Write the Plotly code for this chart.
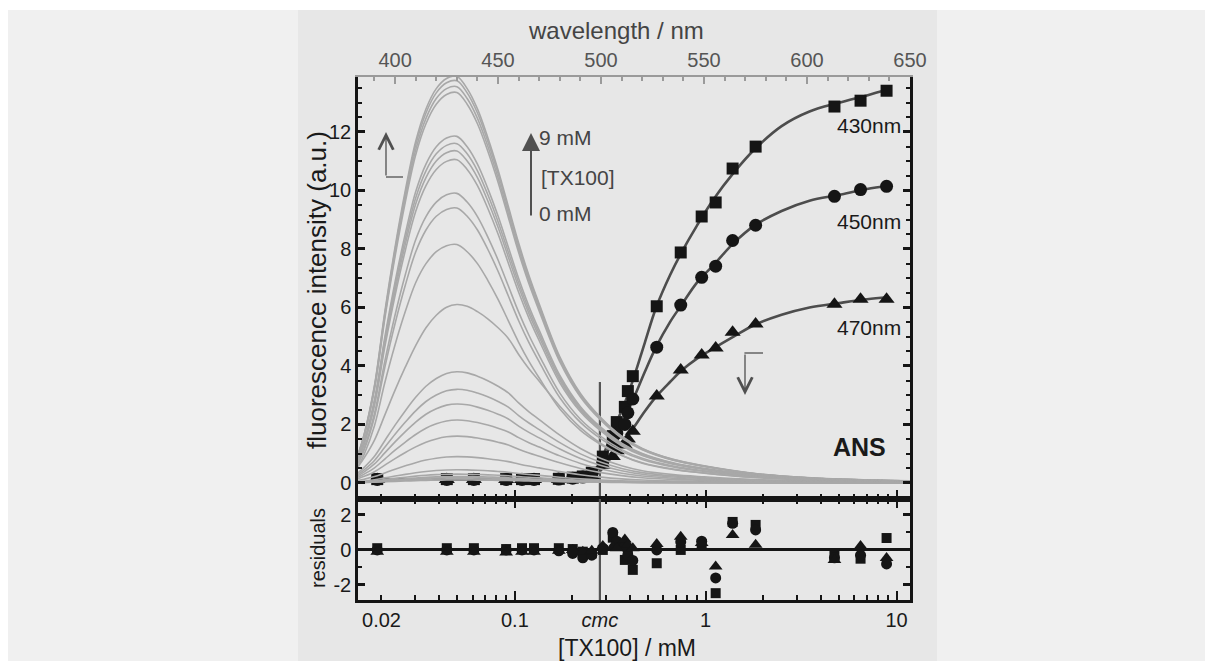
import plotly.graph_objects as go

# ---------------- data ----------------
# TX100 concentrations (mM) of the titration points
conc = [0.019, 0.044, 0.061, 0.090, 0.109, 0.126, 0.170, 0.201, 0.227, 0.253,
        0.289, 0.326, 0.342, 0.377, 0.391, 0.415, 0.554, 0.740, 0.953, 1.128,
        1.384, 1.827, 4.73, 6.48, 8.87]
cmc = 0.279

# fluorescence intensities at the three emission wavelengths
int_430 = [0.13, 0.13, 0.13, 0.13, 0.13, 0.13, 0.14, 0.18, 0.22, 0.35,
           0.9, 1.6, 2.08, 2.6, 3.14, 3.65, 6.04, 7.88, 9.11, 9.59,
           10.75, 11.5, 12.87, 13.07, 13.41]
int_450 = [0.12, 0.12, 0.12, 0.12, 0.12, 0.12, 0.13, 0.16, 0.2, 0.3,
           0.7, 1.3, 1.7, 2.0, 2.4, 2.87, 4.64, 6.08, 7.03, 7.41,
           8.29, 8.81, 9.80, 10.03, 10.14]
int_470 = [0.12, 0.12, 0.12, 0.12, 0.12, 0.12, 0.12, 0.13, 0.15, 0.25,
           0.6, 0.9, 1.1, 1.3, 1.5, 1.77, 2.97, 3.86, 4.37, 4.61,
           5.15, 5.43, 6.11, 6.28, 6.28]

# fitted curves
fit_conc = [0.019, 0.1, 0.2, 0.24, 0.27, 0.29, 0.31, 0.34, 0.38, 0.42, 0.48,
            0.55, 0.65, 0.75, 0.9, 1.1, 1.4, 1.8, 2.5, 3.5, 5.0, 7.0, 9.0]
fit_430 = [0.12, 0.12, 0.15, 0.25, 0.55, 0.95, 1.4, 2.05, 2.8, 3.6, 4.8,
           6.0, 7.1, 7.9, 8.8, 9.7, 10.6, 11.4, 12.2, 12.7, 13.0, 13.25, 13.45]
fit_450 = [0.12, 0.12, 0.14, 0.22, 0.45, 0.8, 1.15, 1.65, 2.3, 2.9, 3.8,
           4.65, 5.5, 6.1, 6.85, 7.45, 8.2, 8.8, 9.3, 9.65, 9.85, 10.05, 10.15]
fit_470 = [0.12, 0.12, 0.13, 0.18, 0.32, 0.52, 0.75, 1.08, 1.5, 1.9, 2.45,
           2.95, 3.45, 3.85, 4.25, 4.6, 5.0, 5.4, 5.75, 6.0, 6.15, 6.28, 6.35]

# residuals
res_430 = [0.1, 0.1, 0.1, 0.05, 0.1, 0.1, 0.1, 0.05, -0.1, -0.2,
           0.0, 0.7, 0.3, -0.57, -0.3, -1.14, -0.76, 0.0, 0.34, -2.47,
           1.6, 1.43, -0.34, -0.5, 0.68]
res_450 = [0.0, 0.0, 0.0, 0.0, 0.0, 0.0, -0.05, -0.2, -0.45, -0.3,
           0.1, 1.0, 0.5, 0.2, -0.3, -0.6, 0.0, 0.46, 0.5, -1.6,
           1.52, 1.14, -0.45, -0.3, -0.8]
res_470 = [-0.1, -0.1, -0.1, -0.15, -0.1, -0.1, -0.05, 0.0, -0.1, -0.05,
           0.23, 0.2, 0.1, 0.6, 0.3, 0.1, 0.34, 0.76, 0.4, -0.95,
           0.86, 0.29, -0.57, 0.23, -0.46]

# emission spectra (wavelength axis, nm)
wavelength = [382, 385, 390, 395, 400, 405, 410, 415, 420, 425, 430, 435, 440,
              445, 450, 455, 460, 465, 470, 480, 490, 500, 510, 520, 535, 550,
              575, 600, 625, 650]
# normalised band profiles (high / low intensity spectra)
profile_high = [0.07, 0.12, 0.24, 0.42, 0.58, 0.72, 0.84, 0.92, 0.97, 0.995,
                1.0, 0.97, 0.92, 0.85, 0.77, 0.68, 0.59, 0.51, 0.44, 0.31,
                0.22, 0.16, 0.115, 0.085, 0.058, 0.042, 0.023, 0.013, 0.008, 0.005]
profile_low = [0.09, 0.14, 0.24, 0.38, 0.52, 0.65, 0.77, 0.87, 0.94, 0.985,
               1.0, 0.99, 0.96, 0.92, 0.87, 0.81, 0.72, 0.64, 0.57, 0.43,
               0.31, 0.22, 0.155, 0.11, 0.075, 0.055, 0.03, 0.018, 0.012, 0.008]
peaks_high = [13.9, 13.75, 13.55, 13.35, 11.85, 11.6, 11.35, 11.05, 9.9, 9.4, 8.15]
peaks_low = [6.1, 3.8, 3.2, 2.7, 2.15, 1.6, 0.9, 0.45, 0.3, 0.22, 0.18, 0.14, 0.1]

# axis tick labels
x_tickvals = [0.02, 0.1, cmc, 1, 10]
x_ticktext = ["0.02", "0.1", "<i>cmc</i>", "1", "10"]
wl_tickvals = [400, 450, 500, 550, 600, 650]

# ---------------- figure ----------------
W, H = 1213, 661
L, R, T, B = 358, 910, 77, 600        # plot area in pixels
SPLIT = 499                            # boundary between panels

def px(x):
    return (x - L) / (R - L)

def py(y):
    return (B - y) / (B - T)

FONT = "Liberation Sans, Arial, sans-serif"
BLACK = "#151515"
SPEC = "#a8a8a8"
FIT = "#4d4d4d"

fig = go.Figure()

for pk in peaks_high:
    fig.add_trace(go.Scatter(x=wavelength, y=[pk * v for v in profile_high],
                             xaxis="x2", yaxis="y", mode="lines",
                             line=dict(color=SPEC, width=1.6, shape="spline"),
                             hoverinfo="skip", showlegend=False))
for pk in peaks_low:
    fig.add_trace(go.Scatter(x=wavelength, y=[pk * v for v in profile_low],
                             xaxis="x2", yaxis="y", mode="lines",
                             line=dict(color=SPEC, width=1.6, shape="spline"),
                             hoverinfo="skip", showlegend=False))

# cmc line (both panels)
fig.add_trace(go.Scatter(x=[cmc, cmc], y=[-0.6, 3.45], xaxis="x", yaxis="y",
                         mode="lines", line=dict(color="#555555", width=2.2),
                         showlegend=False, hoverinfo="skip"))
fig.add_trace(go.Scatter(x=[cmc, cmc], y=[-3, 3], xaxis="x3", yaxis="y3",
                         mode="lines", line=dict(color="#555555", width=2.2),
                         showlegend=False, hoverinfo="skip"))
# invisible trace that carries the labelled bottom axis
fig.add_trace(go.Scatter(x=[cmc], y=[0], xaxis="x4", yaxis="y3", mode="markers",
                         marker=dict(opacity=0), showlegend=False,
                         hoverinfo="skip"))

for fy in (fit_430, fit_450, fit_470):
    fig.add_trace(go.Scatter(x=fit_conc, y=fy, xaxis="x", yaxis="y", mode="lines",
                             line=dict(color=FIT, width=2.6, shape="spline"),
                             showlegend=False, hoverinfo="skip"))

sym = [("square", int_430, res_430, 12), ("circle", int_450, res_450, 13),
       ("triangle-up", int_470, res_470, 14)]
for s, iy, ry, sz in sym:
    fig.add_trace(go.Scatter(x=conc, y=iy, xaxis="x", yaxis="y", mode="markers",
                             marker=dict(symbol=s, size=sz, color=BLACK,
                                         line=dict(width=0)),
                             showlegend=False))
for s, iy, ry, sz in sym:
    fig.add_trace(go.Scatter(x=conc, y=ry, xaxis="x3", yaxis="y3", mode="markers",
                             marker=dict(symbol=s, size=sz - 2, color=BLACK,
                                         line=dict(width=0)),
                             showlegend=False))

log_minor = [0.02, 0.03, 0.04, 0.05, 0.06, 0.07, 0.08, 0.09,
             0.2, 0.3, 0.4, 0.5, 0.6, 0.7, 0.8, 0.9,
             2, 3, 4, 5, 6, 7, 8, 9]
xr = [-1.822, 1.0707]
ysplit = py(SPLIT)
tickfont = dict(family=FONT, size=20, color="#1a1a1a")

fig.update_layout(
    width=W, height=H,
    margin=dict(l=L, r=W - R, t=T, b=H - B, pad=0),
    paper_bgcolor="white", plot_bgcolor="rgba(0,0,0,0)",
    font=dict(family=FONT, color="#1a1a1a"),
    showlegend=False,
    xaxis=dict(type="log", range=xr, domain=[0, 1], anchor="y",
               showline=True, linecolor=BLACK, linewidth=2.5,
               ticks="inside", tickvals=[0.1, 1, 10], ticklen=9, tickwidth=2,
               tickcolor=BLACK, showticklabels=False, showgrid=False, zeroline=False,
               minor=dict(tickvals=log_minor, ticklen=5, tickwidth=2,
                          tickcolor=BLACK, ticks="inside", showgrid=False)),
    xaxis2=dict(range=[382, 650], overlaying="x", anchor="y", side="top",
                showline=True, linecolor="#9a9a9a", linewidth=2,
                ticks="inside", tickvals=wl_tickvals,
                ticklen=7, tickwidth=2, tickcolor="#9a9a9a",
                tickfont=dict(family=FONT, size=20, color="#555555"),
                showgrid=False, zeroline=False,
                minor=dict(dtick=10, ticklen=4, tickwidth=2,
                           tickcolor="#9a9a9a", ticks="inside")),
    yaxis=dict(range=[-0.55, 13.88], domain=[ysplit, 1], anchor="x",
               showline=True, linecolor=BLACK, linewidth=2.5, mirror="ticks",
               ticks="inside", dtick=2, tick0=0, ticklen=7, tickwidth=2.5,
               tickcolor=BLACK, tickfont=tickfont,
               showgrid=False, zeroline=False,
               minor=dict(dtick=0.5, ticklen=4, tickwidth=2,
                          tickcolor=BLACK, ticks="inside")),
    xaxis3=dict(type="log", range=xr, domain=[0, 1], anchor="y3",
                showline=True, linecolor=BLACK, linewidth=2.5, mirror="ticks",
                ticks="inside", tickvals=[0.1, 1, 10], ticklen=9, tickwidth=2,
                tickcolor=BLACK, showticklabels=False, showgrid=False,
                zeroline=False,
                minor=dict(tickvals=log_minor, ticklen=5, tickwidth=2,
                           tickcolor=BLACK, ticks="inside", showgrid=False)),
    xaxis4=dict(type="log", range=xr, overlaying="x3", anchor="y3", side="bottom",
                showline=False, ticks="", tickvals=x_tickvals,
                ticktext=x_ticktext, ticklabelstandoff=6,
                tickfont=tickfont, showgrid=False, zeroline=False),
    yaxis3=dict(range=[-2.86, 2.91], domain=[0, ysplit], anchor="x3",
                showline=True, linecolor=BLACK, linewidth=2.5, mirror="ticks",
                ticks="inside", tickvals=[-2, 0, 2], ticktext=["-2", "0", "2"],
                ticklen=7, tickwidth=2.5, tickcolor=BLACK, tickfont=tickfont,
                showgrid=False, zeroline=True, zerolinecolor=BLACK,
                zerolinewidth=2.5,
                minor=dict(tickvals=[-1, 1], ticklen=4, tickwidth=2,
                           tickcolor=BLACK, ticks="inside")),
)

# backgrounds
fig.add_shape(type="rect", xref="paper", yref="paper", layer="below",
              x0=px(8), x1=px(1205), y0=py(661), y1=py(10),
              fillcolor="#f0f0f0", line=dict(width=0))
fig.add_shape(type="rect", xref="paper", yref="paper", layer="below",
              x0=px(298), x1=px(937), y0=py(661), y1=py(10),
              fillcolor="#e7e7e7", line=dict(width=0))

ann = []
def text(x, y, s, size=20, color="#1a1a1a", xanchor="center", angle=0):
    ann.append(dict(x=px(x), y=py(y), xref="paper", yref="paper", text=s,
                    showarrow=False, xanchor=xanchor, yanchor="middle",
                    textangle=angle,
                    font=dict(family=FONT, size=size, color=color)))

text(616, 31, "wavelength / nm", size=24, color="#444444")
text(627, 648, "[TX100] / mM", size=23)
text(317, 290, "fluorescence intensity (a.u.)", size=26, angle=-90)
text(318, 548, "residuals", size=20, angle=-90)
text(903, 126, "430nm", size=21, xanchor="right")
text(903, 221, "450nm", size=21, xanchor="right")
text(903, 327, "470nm", size=21, xanchor="right")
text(859, 447, "<b>ANS</b>", size=25)
text(537, 137, "9 mM", size=21, color="#444444", xanchor="left")
text(539, 177, "[TX100]", size=21, color="#444444", xanchor="left")
text(537, 213, "0 mM", size=21, color="#444444", xanchor="left")

# arrows
ann.append(dict(x=px(531), y=py(133), xref="paper", yref="paper", text="",
                showarrow=True, ax=0, ay=84, arrowhead=2, arrowsize=1.8,
                arrowwidth=2, arrowcolor="#505050"))
ann.append(dict(x=px(386), y=py(132), xref="paper", yref="paper", text="",
                showarrow=True, ax=0, ay=45, arrowhead=5, arrowsize=2.2,
                arrowwidth=1.3, arrowcolor="#505050"))
ann.append(dict(x=px(745), y=py(395), xref="paper", yref="paper", text="",
                showarrow=True, ax=0, ay=-42, arrowhead=5, arrowsize=2.2,
                arrowwidth=1.3, arrowcolor="#505050"))
fig.update_layout(annotations=ann)
fig.add_shape(type="line", xref="paper", yref="paper", x0=px(386), x1=px(403),
              y0=py(177), y1=py(177), line=dict(color="#505050", width=1.3))
fig.add_shape(type="line", xref="paper", yref="paper", x0=px(744.4), x1=px(763),
              y0=py(353), y1=py(353), line=dict(color="#505050", width=1.3))

fig.write_html("out.html")
